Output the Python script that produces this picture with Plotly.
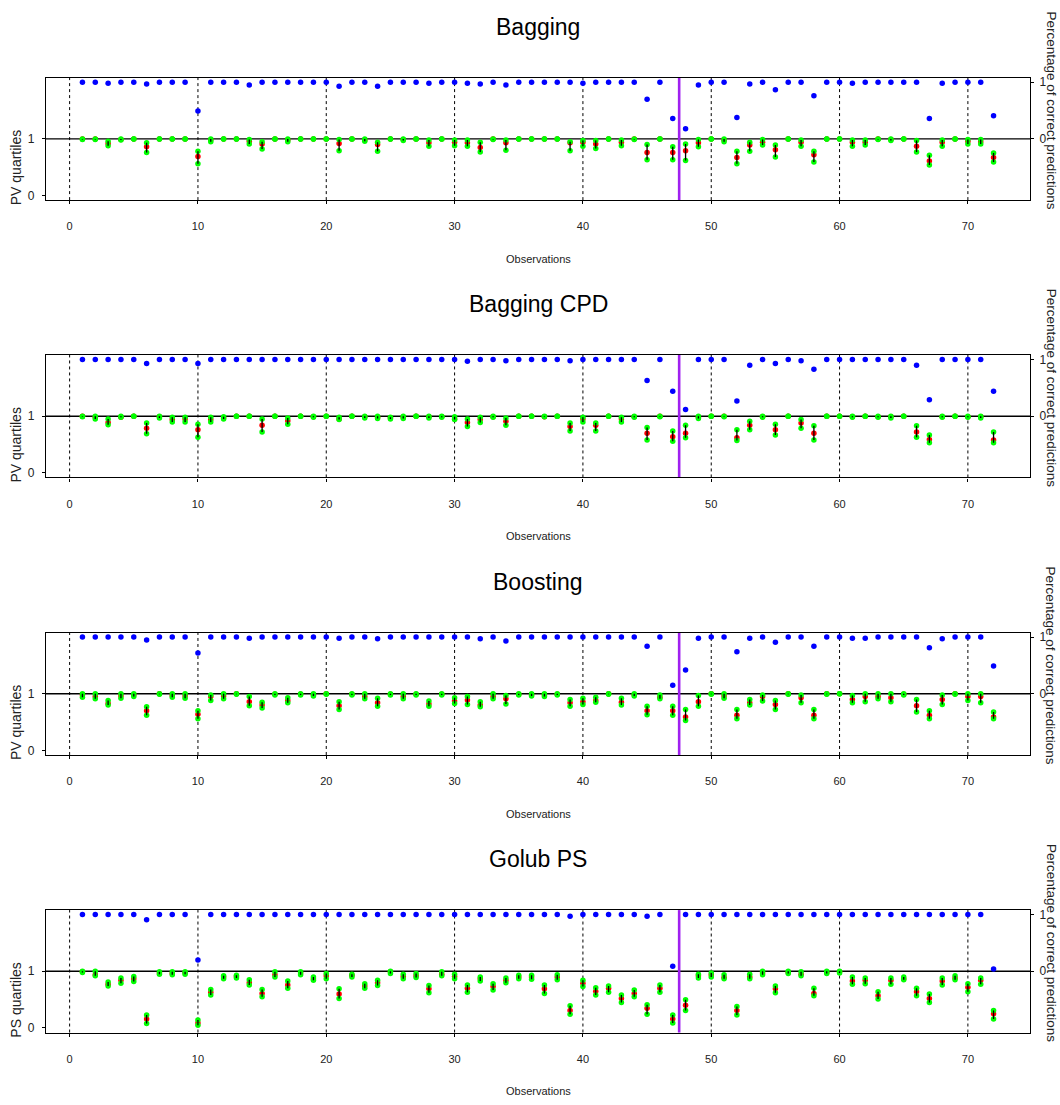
import plotly.graph_objects as go

# ---------------- data ----------------
obs = list(range(1, 73))
x_ticks = [0, 10, 20, 30, 40, 50, 60, 70]
split_obs = 47.5

panel_titles = ["Bagging", "Bagging CPD", "Boosting", "Golub PS"]
left_titles = ["PV quartiles", "PV quartiles", "PV quartiles", "PS quartiles"]
right_title = "Percentage of correct predictions"
x_title = "Observations"

# Bagging
bag_pct = [1.00, 1.00, 0.98, 1.00, 1.00, 0.97, 1.00, 1.00, 1.00, 0.49, 1.00, 1.00,
           1.00, 0.95, 1.00, 1.00, 1.00, 1.00, 1.00, 1.00, 0.93, 1.00, 1.00, 0.93,
           1.00, 1.00, 1.00, 0.98, 1.00, 1.00, 0.98, 0.97, 1.00, 0.95, 1.00, 1.00,
           1.00, 1.00, 1.00, 0.98, 1.00, 1.00, 1.00, 1.00, 0.70, 1.00, 0.36, 0.18,
           0.95, 1.00, 1.00, 0.375, 0.97, 1.00, 0.865, 1.00, 1.00, 0.76, 1.00, 1.00,
           0.98, 1.00, 1.00, 1.00, 1.00, 1.00, 0.36, 0.98, 1.00, 1.00, 1.00, 0.41]
bag_q3 = [1.00, 1.00, 0.96, 1.00, 1.00, 0.93, 1.00, 1.00, 1.00, 0.78, 1.00, 1.00,
          1.00, 0.99, 0.95, 1.00, 1.00, 1.00, 1.00, 1.00, 0.99, 1.00, 1.00, 0.94,
          1.00, 1.00, 1.00, 0.98, 1.00, 0.98, 0.98, 0.94, 1.00, 0.98, 1.00, 1.00,
          1.00, 1.00, 0.95, 0.97, 0.97, 1.00, 0.98, 1.00, 0.90, 1.00, 0.86, 0.91,
          0.99, 1.00, 1.00, 0.78, 0.94, 0.99, 0.89, 1.00, 0.98, 0.78, 1.00, 1.00,
          0.98, 0.98, 1.00, 1.00, 1.00, 0.97, 0.71, 0.98, 1.00, 0.99, 0.99, 0.75]
bag_med = [1.00, 1.00, 0.92, 0.99, 1.00, 0.86, 1.00, 1.00, 1.00, 0.69, 0.98, 1.00,
           1.00, 0.96, 0.91, 1.00, 0.98, 1.00, 1.00, 1.00, 0.92, 1.00, 0.98, 0.90,
           1.00, 0.99, 1.00, 0.93, 1.00, 0.94, 0.93, 0.85, 1.00, 0.93, 1.00, 1.00,
           1.00, 1.00, 0.93, 0.94, 0.91, 1.00, 0.94, 1.00, 0.76, 1.00, 0.76, 0.79,
           0.93, 1.00, 0.98, 0.67, 0.89, 0.94, 0.81, 1.00, 0.94, 0.72, 1.00, 1.00,
           0.94, 0.94, 1.00, 0.99, 1.00, 0.87, 0.61, 0.94, 1.00, 0.96, 0.95, 0.67]
bag_q1 = [0.99, 0.99, 0.88, 0.98, 1.00, 0.76, 1.00, 1.00, 1.00, 0.56, 0.95, 1.00,
          1.00, 0.91, 0.82, 1.00, 0.95, 1.00, 1.00, 1.00, 0.79, 1.00, 0.96, 0.78,
          1.00, 0.97, 1.00, 0.87, 1.00, 0.88, 0.87, 0.77, 0.99, 0.80, 1.00, 1.00,
          1.00, 1.00, 0.79, 0.87, 0.83, 1.00, 0.88, 0.99, 0.63, 1.00, 0.63, 0.62,
          0.86, 1.00, 0.95, 0.56, 0.78, 0.89, 0.68, 1.00, 0.87, 0.59, 1.00, 1.00,
          0.87, 0.89, 0.99, 0.97, 1.00, 0.77, 0.54, 0.87, 1.00, 0.91, 0.91, 0.59]

# Bagging CPD
cpd_pct = [1.00, 1.00, 1.00, 1.00, 1.00, 0.93, 1.00, 1.00, 1.00, 0.93, 1.00, 1.00,
           1.00, 1.00, 1.00, 1.00, 1.00, 1.00, 1.00, 1.00, 1.00, 1.00, 1.00, 1.00,
           1.00, 1.00, 1.00, 1.00, 1.00, 1.00, 0.97, 1.00, 1.00, 0.98, 1.00, 1.00,
           1.00, 1.00, 0.98, 1.00, 1.00, 1.00, 1.00, 1.00, 0.63, 1.00, 0.44, 0.12,
           1.00, 1.00, 1.00, 0.27, 0.90, 1.00, 0.93, 1.00, 0.98, 0.83, 1.00, 1.00,
           1.00, 1.00, 1.00, 1.00, 1.00, 0.90, 0.29, 1.00, 1.00, 1.00, 1.00, 0.44]
cpd_q3 = [1.00, 1.00, 0.95, 1.00, 1.00, 0.88, 1.00, 0.98, 0.98, 0.86, 0.98, 0.99,
          1.00, 1.00, 0.95, 1.00, 0.97, 1.00, 1.00, 1.00, 0.98, 1.00, 1.00, 1.00,
          0.98, 1.00, 1.00, 1.00, 1.00, 0.99, 0.95, 0.98, 1.00, 0.97, 1.00, 1.00,
          1.00, 1.00, 0.88, 0.98, 0.88, 1.00, 0.98, 1.00, 0.80, 1.00, 0.74, 0.84,
          1.00, 1.00, 1.00, 0.76, 0.91, 1.00, 0.86, 1.00, 0.94, 0.83, 1.00, 1.00,
          1.00, 1.00, 1.00, 1.00, 1.00, 0.83, 0.67, 1.00, 1.00, 1.00, 1.00, 0.72]
cpd_med = [1.00, 0.98, 0.89, 0.98, 1.00, 0.79, 0.99, 0.94, 0.95, 0.76, 0.94, 0.97,
           1.00, 1.00, 0.84, 1.00, 0.92, 1.00, 0.99, 1.00, 0.95, 1.00, 0.99, 0.98,
           0.97, 0.98, 1.00, 0.99, 0.99, 0.95, 0.89, 0.94, 0.99, 0.91, 1.00, 1.00,
           0.99, 1.00, 0.82, 0.95, 0.84, 1.00, 0.95, 0.99, 0.70, 1.00, 0.64, 0.70,
           0.98, 1.00, 1.00, 0.62, 0.84, 0.99, 0.76, 1.00, 0.88, 0.70, 1.00, 1.00,
           0.99, 1.00, 0.99, 0.99, 1.00, 0.72, 0.59, 0.99, 1.00, 0.99, 0.99, 0.58]
cpd_q1 = [0.99, 0.95, 0.85, 0.98, 1.00, 0.69, 0.97, 0.90, 0.90, 0.63, 0.90, 0.95,
          1.00, 1.00, 0.72, 1.00, 0.86, 1.00, 0.98, 1.00, 0.94, 1.00, 0.97, 0.96,
          0.95, 0.96, 1.00, 0.97, 0.98, 0.94, 0.82, 0.89, 0.98, 0.84, 1.00, 1.00,
          0.99, 1.00, 0.74, 0.90, 0.74, 1.00, 0.90, 0.98, 0.58, 0.99, 0.56, 0.62,
          0.96, 1.00, 0.99, 0.57, 0.76, 0.98, 0.67, 1.00, 0.79, 0.58, 1.00, 1.00,
          0.98, 1.00, 0.98, 0.97, 1.00, 0.63, 0.53, 0.98, 1.00, 0.98, 0.97, 0.53]

# Boosting
boost_pct = [1.00, 1.00, 1.00, 1.00, 1.00, 0.95, 1.00, 1.00, 1.00, 0.72, 1.00, 1.00,
             1.00, 0.98, 1.00, 1.00, 1.00, 1.00, 1.00, 1.00, 0.98, 1.00, 1.00, 0.97,
             1.00, 1.00, 1.00, 1.00, 1.00, 1.00, 1.00, 0.97, 1.00, 0.93, 1.00, 1.00,
             1.00, 1.00, 1.00, 1.00, 1.00, 1.00, 1.00, 1.00, 0.84, 1.00, 0.15, 0.42,
             0.98, 1.00, 1.00, 0.74, 0.98, 1.00, 0.91, 1.00, 1.00, 0.84, 1.00, 1.00,
             0.98, 0.98, 1.00, 1.00, 1.00, 1.00, 0.81, 0.97, 1.00, 1.00, 1.00, 0.49]
boost_q3 = [1.00, 1.00, 0.88, 1.00, 1.00, 0.77, 1.00, 1.00, 1.00, 0.70, 0.98, 1.00,
            1.00, 0.95, 0.85, 1.00, 0.93, 1.00, 1.00, 1.00, 0.86, 1.00, 1.00, 0.92,
            1.00, 1.00, 1.00, 0.87, 1.00, 0.93, 0.95, 0.86, 1.00, 0.97, 1.00, 1.00,
            1.00, 1.00, 0.90, 0.92, 0.94, 1.00, 0.92, 1.00, 0.78, 0.98, 0.78, 0.72,
            0.97, 1.00, 1.00, 0.72, 0.90, 0.98, 0.88, 1.00, 0.98, 0.72, 1.00, 1.00,
            0.97, 1.00, 1.00, 1.00, 1.00, 0.90, 0.70, 0.98, 1.00, 1.00, 1.00, 0.68]
boost_med = [0.98, 0.95, 0.83, 0.96, 0.98, 0.70, 1.00, 0.97, 0.96, 0.64, 0.95, 0.96,
             1.00, 0.86, 0.80, 0.99, 0.88, 0.99, 0.98, 1.00, 0.79, 0.99, 0.95, 0.84,
             0.99, 0.95, 0.99, 0.82, 0.99, 0.87, 0.89, 0.80, 0.95, 0.91, 0.99, 0.98,
             0.98, 0.99, 0.84, 0.86, 0.88, 1.00, 0.85, 0.98, 0.70, 0.94, 0.70, 0.59,
             0.86, 1.00, 0.96, 0.62, 0.84, 0.95, 0.81, 1.00, 0.93, 0.62, 1.00, 1.00,
             0.90, 0.95, 0.95, 0.93, 0.99, 0.79, 0.62, 0.90, 1.00, 0.95, 0.95, 0.59]
boost_q1 = [0.94, 0.91, 0.80, 0.92, 0.95, 0.62, 0.99, 0.94, 0.92, 0.56, 0.88, 0.91,
            0.99, 0.79, 0.75, 0.98, 0.84, 0.98, 0.96, 0.99, 0.72, 0.98, 0.91, 0.78,
            0.98, 0.91, 0.98, 0.78, 0.98, 0.83, 0.81, 0.77, 0.91, 0.82, 0.98, 0.96,
            0.95, 0.98, 0.78, 0.81, 0.85, 0.99, 0.80, 0.96, 0.63, 0.91, 0.62, 0.53,
            0.78, 0.99, 0.92, 0.56, 0.80, 0.87, 0.72, 0.99, 0.84, 0.56, 0.99, 1.00,
            0.84, 0.86, 0.91, 0.86, 0.98, 0.68, 0.56, 0.81, 0.99, 0.88, 0.84, 0.56]

# Golub PS
golub_pct = [1.00, 1.00, 1.00, 1.00, 1.00, 0.91, 1.00, 1.00, 1.00, 0.20, 1.00, 1.00,
             1.00, 1.00, 1.00, 1.00, 1.00, 1.00, 1.00, 1.00, 1.00, 1.00, 1.00, 1.00,
             1.00, 1.00, 1.00, 1.00, 1.00, 1.00, 1.00, 1.00, 1.00, 1.00, 1.00, 1.00,
             1.00, 1.00, 0.97, 1.00, 1.00, 1.00, 1.00, 1.00, 0.97, 1.00, 0.09, 1.00,
             1.00, 1.00, 1.00, 1.00, 1.00, 1.00, 1.00, 1.00, 1.00, 1.00, 1.00, 1.00,
             1.00, 1.00, 1.00, 1.00, 1.00, 1.00, 1.00, 1.00, 1.00, 1.00, 1.00, 0.04]
golub_q3 = [1.00, 1.00, 0.81, 0.88, 0.91, 0.23, 0.99, 0.99, 0.99, 0.14, 0.68, 0.92,
            0.93, 0.85, 0.68, 0.99, 0.83, 0.99, 0.90, 0.96, 0.69, 0.95, 0.78, 0.84,
            1.00, 0.95, 0.96, 0.75, 0.99, 0.95, 0.76, 0.90, 0.78, 0.88, 0.93, 0.93,
            0.76, 0.94, 0.39, 0.84, 0.71, 0.74, 0.58, 0.67, 0.41, 0.76, 0.23, 0.50,
            0.95, 0.97, 0.94, 0.38, 0.95, 1.00, 0.74, 1.00, 0.99, 0.70, 1.00, 1.00,
            0.90, 0.88, 0.64, 0.88, 0.90, 0.70, 0.60, 0.88, 0.92, 0.78, 0.88, 0.31]
golub_med = [0.99, 0.94, 0.77, 0.84, 0.87, 0.16, 0.97, 0.96, 0.98, 0.09, 0.63, 0.90,
             0.91, 0.80, 0.61, 0.94, 0.76, 0.97, 0.87, 0.92, 0.60, 0.93, 0.74, 0.80,
             0.99, 0.91, 0.92, 0.69, 0.95, 0.91, 0.70, 0.87, 0.73, 0.84, 0.90, 0.90,
             0.69, 0.90, 0.31, 0.79, 0.65, 0.70, 0.52, 0.61, 0.35, 0.70, 0.16, 0.40,
             0.92, 0.94, 0.89, 0.31, 0.90, 0.97, 0.69, 0.98, 0.95, 0.61, 0.98, 0.99,
             0.83, 0.84, 0.57, 0.84, 0.87, 0.64, 0.52, 0.83, 0.88, 0.72, 0.84, 0.25]
golub_q1 = [0.98, 0.92, 0.74, 0.79, 0.82, 0.08, 0.95, 0.94, 0.95, 0.05, 0.58, 0.87,
            0.88, 0.76, 0.55, 0.90, 0.70, 0.94, 0.84, 0.87, 0.52, 0.90, 0.70, 0.75,
            0.96, 0.87, 0.89, 0.62, 0.92, 0.87, 0.63, 0.83, 0.67, 0.80, 0.87, 0.86,
            0.61, 0.85, 0.24, 0.73, 0.58, 0.63, 0.45, 0.55, 0.24, 0.63, 0.09, 0.31,
            0.88, 0.90, 0.87, 0.23, 0.87, 0.94, 0.62, 0.96, 0.92, 0.57, 0.96, 0.97,
            0.77, 0.78, 0.51, 0.77, 0.85, 0.57, 0.45, 0.76, 0.85, 0.64, 0.77, 0.16]

panels = [
    (bag_pct, bag_q1, bag_med, bag_q3),
    (cpd_pct, cpd_q1, cpd_med, cpd_q3),
    (boost_pct, boost_q1, boost_med, boost_q3),
    (golub_pct, golub_q1, golub_med, golub_q3),
]

# ---------------- layout geometry (pixels) ----------------
W, H = 1060, 1105
box_left, box_right = 46, 1030
box_tops = [76, 354.6, 633.4, 912.2]
box_h = 123

FONT = "Liberation Sans, Arial, sans-serif"


def py(p):
    return 1 - p / H


fig = go.Figure()
layout = dict(
    width=W, height=H,
    margin=dict(l=0, r=0, t=0, b=0),
    paper_bgcolor="white", plot_bgcolor="white",
    showlegend=False,
    font=dict(family=FONT, color="black"),
)
shapes = []
annotations = []

for k, (pct, q1, med, q3) in enumerate(panels):
    n = k + 1
    xa = "x" if n == 1 else f"x{n}"
    ya = "y" if n == 1 else f"y{n}"
    yr = f"y{n + 4}"
    top = box_tops[k]
    bot = top + box_h

    layout["xaxis" if n == 1 else f"xaxis{n}"] = dict(
        domain=[box_left / W, box_right / W], range=[-1.84, 74.84],
        anchor=ya, tickvals=x_ticks, ticks="outside", ticklen=3, tickwidth=1,
        tickcolor="black", showline=True, mirror=True, linecolor="black",
        linewidth=1.3, showgrid=False, zeroline=False,
        tickfont=dict(family=FONT, size=11, color="#222"),
        ticklabelstandoff=13, fixedrange=True,
    )
    layout["yaxis" if n == 1 else f"yaxis{n}"] = dict(
        domain=[py(bot), py(top)], range=[-0.08, 2.08], anchor=xa,
        tickvals=[0, 1], ticks="outside", ticklen=3, tickcolor="black",
        showline=True, mirror=True, linecolor="black", linewidth=1.3,
        showgrid=False, zeroline=False, ticklabelstandoff=5,
        tickfont=dict(family=FONT, size=12, color="#222"), fixedrange=True,
    )
    layout[f"yaxis{n + 4}"] = dict(
        overlaying=ya, side="right", anchor=xa, range=[-1.08, 1.08],
        tickvals=[0, 1], ticks="outside", ticklen=3, tickcolor="black",
        showline=False, showgrid=False, zeroline=False, ticklabelstandoff=3,
        tickfont=dict(family=FONT, size=12, color="#222"), fixedrange=True,
    )

    # reference line at PV = 1 (which is 0 on the percentage scale)
    shapes.append(dict(type="line", xref=f"{xa} domain", yref=ya, x0=0, x1=1,
                       y0=1, y1=1, line=dict(color="black", width=1.4),
                       layer="below"))
    for v in x_ticks:
        shapes.append(dict(type="line", xref=xa, yref=f"{ya} domain", x0=v, x1=v,
                           y0=0, y1=1, line=dict(color="black", width=1,
                                                  dash="3px,3px"),
                           layer="below"))
    shapes.append(dict(type="line", xref=xa, yref=f"{ya} domain", x0=split_obs,
                       x1=split_obs, y0=0, y1=1,
                       line=dict(color="#A020F0", width=2.6), layer="below"))

    # percentage of correct predictions (right axis)
    fig.add_trace(go.Scatter(x=obs, y=pct, xaxis=xa, yaxis=yr, mode="markers",
                             marker=dict(color="#0000FF", size=5.5),
                             hoverinfo="skip"))
    # medians, then quartiles, then the quartile ranges
    fig.add_trace(go.Scatter(x=obs, y=med, xaxis=xa, yaxis=ya, mode="markers",
                             marker=dict(color="#FF0000", size=5.5),
                             hoverinfo="skip"))
    fig.add_trace(go.Scatter(x=obs + obs, y=q1 + q3, xaxis=xa, yaxis=ya,
                             mode="markers",
                             marker=dict(color="#00FF00", size=5.5),
                             hoverinfo="skip"))
    seg_x, seg_y = [], []
    for i, lo, hi in zip(obs, q1, q3):
        seg_x += [i, i, None]
        seg_y += [lo, hi, None]
    fig.add_trace(go.Scatter(x=seg_x, y=seg_y, xaxis=xa, yaxis=ya, mode="lines",
                             line=dict(color="black", width=1.3),
                             hoverinfo="skip"))

    annotations.append(dict(text=panel_titles[k], xref="paper", yref="paper",
                            x=(box_left + box_right) / 2 / W, y=py(top - 51),
                            showarrow=False, xanchor="center", yanchor="middle",
                            font=dict(family=FONT, size=23, color="black")))
    annotations.append(dict(text=x_title, xref="paper", yref="paper",
                            x=(box_left + box_right) / 2 / W, y=py(bot + 59),
                            showarrow=False, xanchor="center", yanchor="middle",
                            font=dict(family=FONT, size=11, color="#222")))
    annotations.append(dict(text=left_titles[k], xref="paper", yref="paper",
                            x=16 / W, y=py(top + 91), showarrow=False,
                            textangle=-90, xanchor="center", yanchor="middle",
                            font=dict(family=FONT, size=14, color="#222")))
    annotations.append(dict(text=right_title, xref="paper", yref="paper",
                            x=1051 / W, y=py(top + 33), showarrow=False,
                            textangle=90, xanchor="center", yanchor="middle",
                            font=dict(family=FONT, size=13.5, color="#222")))

layout["shapes"] = shapes
layout["annotations"] = annotations
fig.update_layout(**layout)
fig.write_html("out.html")
